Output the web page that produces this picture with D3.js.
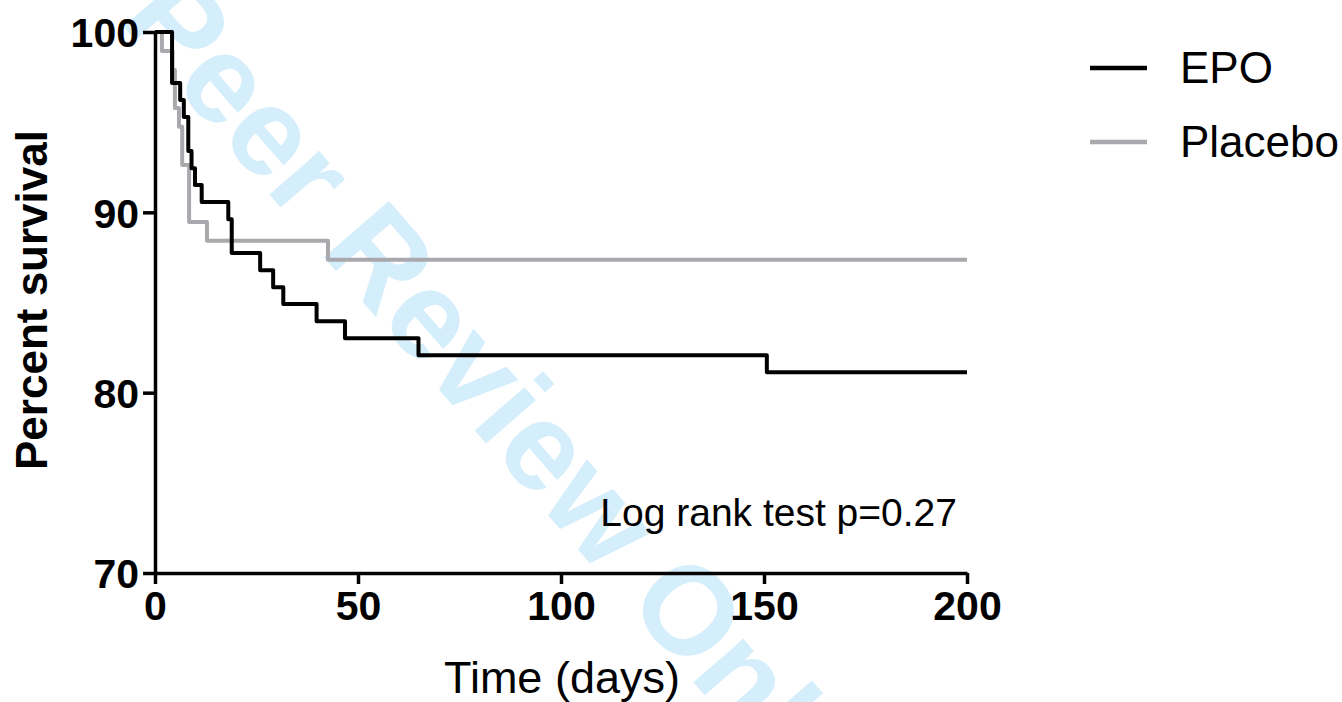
<!DOCTYPE html>
<html>
<head>
<meta charset="utf-8">
<script src="https://cdn.jsdelivr.net/npm/d3@7/dist/d3.min.js"></script>
<style>
  html, body { margin: 0; padding: 0; background: #fff; }
  svg { display: block; }
</style>
</head>
<body>
<svg id="chart" width="1342" height="702"></svg>
<script>
// ---- data ----
const epoDays = [0, 4.2, 6.2, 7.1, 8.2, 9.0, 9.85, 11.5, 18.05, 18.9, 25.9, 29.1, 31.6, 39.8, 46.8, 64.9, 150.7, 200];
const epoSurv = [100, 97.17, 96.23, 95.28, 93.40, 92.45, 91.51, 90.57, 89.62, 87.74, 86.79, 85.85, 84.91, 83.96, 83.02, 82.08, 81.13, 81.13];
const placeboDays = [0, 1.7, 4.3, 4.9, 5.9, 6.7, 8.4, 12.8, 42.6, 200];
const placeboSurv = [100, 98.95, 97.89, 95.79, 94.74, 92.63, 89.47, 88.42, 87.37, 87.37];
const xTicks = [0, 50, 100, 150, 200];
const yTicks = [70, 80, 90, 100];
const seriesNames = ["EPO", "Placebo"];
const seriesColors = ["#000000", "#a9a9ad"];
const annotation = "Log rank test p=0.27";
const xTitle = "Time (days)";
const yTitle = "Percent survival";
const watermark = "For Peer Review Only";

const svg = d3.select("#chart");

// watermark
svg.append("text")
  .attr("transform", "translate(-37,-158) rotate(49)")
  .attr("font-family", "Liberation Sans, Arial, sans-serif")
  .attr("font-weight", "bold")
  .attr("font-size", 125)
  .attr("fill", "#d5eefb")
  .text(watermark);

const x = d3.scaleLinear().domain([0, 200]).range([155, 967]);
const y = d3.scaleLinear().domain([70, 100]).range([573, 32]);

const font = "Liberation Sans, Arial, sans-serif";

// axes
const yAxis = svg.append("g")
  .attr("transform", "translate(155,0)")
  .call(d3.axisLeft(y).tickValues(yTicks).tickSize(12).tickSizeOuter(0).tickPadding(4));
const xAxis = svg.append("g")
  .attr("transform", "translate(0,573)")
  .call(d3.axisBottom(x).tickValues(xTicks).tickSize(11).tickSizeOuter(0).tickPadding(5));

[yAxis, xAxis].forEach(g => {
  g.select(".domain").attr("stroke", "#000").attr("stroke-width", 3.5);
  g.selectAll(".tick line").attr("stroke", "#000").attr("stroke-width", 3.5);
  g.selectAll(".tick text")
    .attr("font-family", font)
    .attr("font-weight", "bold")
    .attr("font-size", 41)
    .attr("fill", "#000");
});
yAxis.selectAll(".tick text").attr("dy", "0.36em");
xAxis.selectAll(".tick text").attr("dy", "0.76em");

// axis titles
svg.append("text")
  .attr("x", 562).attr("y", 693)
  .attr("text-anchor", "middle")
  .attr("font-family", font)
  .attr("font-size", 45)
  .text(xTitle);
svg.append("text")
  .attr("transform", "translate(47,300) rotate(-90)")
  .attr("text-anchor", "middle")
  .attr("font-family", font)
  .attr("font-weight", "bold")
  .attr("font-size", 44)
  .text(yTitle);

// curves
const line = d3.line().x(d => x(d[0])).y(d => y(d[1])).curve(d3.curveStepAfter);
const series = [
  d3.zip(placeboDays, placeboSurv),
  d3.zip(epoDays, epoSurv)
];
const colorsDraw = [seriesColors[1], seriesColors[0]];
series.forEach((s, i) => {
  svg.append("path")
    .datum(s)
    .attr("d", line)
    .attr("fill", "none")
    .attr("stroke", colorsDraw[i])
    .attr("stroke-width", 4)
    .attr("stroke-linejoin", "round");
});

// annotation
svg.append("text")
  .attr("x", 957).attr("y", 526)
  .attr("text-anchor", "end")
  .attr("font-family", font)
  .attr("font-size", 39)
  .text(annotation);

// legend
const legendY = [68, 142];
seriesNames.forEach((name, i) => {
  svg.append("line")
    .attr("x1", 1090).attr("x2", 1147)
    .attr("y1", legendY[i]).attr("y2", legendY[i])
    .attr("stroke", seriesColors[i])
    .attr("stroke-width", 4.5);
  svg.append("text")
    .attr("x", 1180).attr("y", legendY[i] + 15)
    .attr("font-family", font)
    .attr("font-size", 44)
    .text(name);
});
</script>
</body>
</html>
